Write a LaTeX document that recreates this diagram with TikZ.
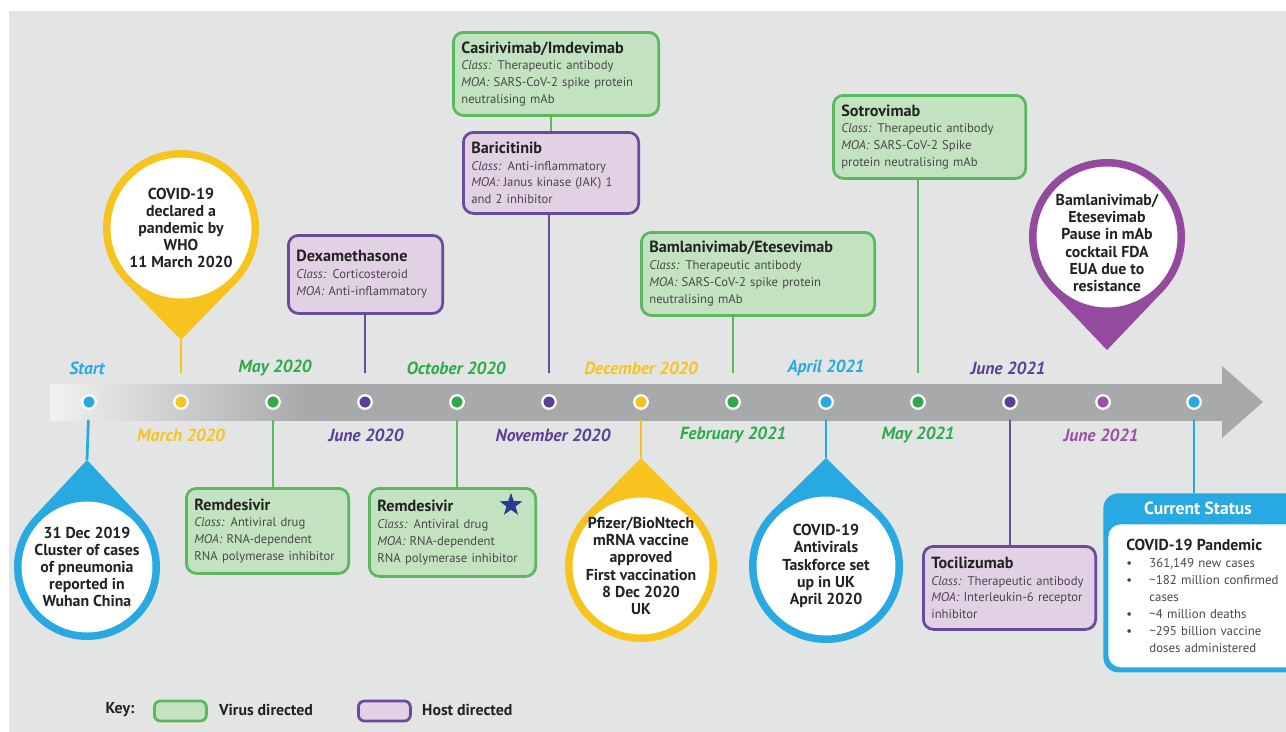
\documentclass[tikz,border=0pt]{standalone}
\usepackage{fontspec}
\setmainfont{PT Sans}
\usepackage{tikz}
\usetikzlibrary{shapes.geometric}

\definecolor{bgmid}{HTML}{F1F1F1}
\definecolor{bgside}{HTML}{E3E4E4}
\definecolor{bandgray}{HTML}{A7A9AB}
\definecolor{virusline}{HTML}{5CB85F}
\definecolor{virusfill}{HTML}{C3E3C0}
\definecolor{hostline}{HTML}{6A4B9B}
\definecolor{hostfill}{HTML}{E2D0E4}
\definecolor{pincyan}{HTML}{29A9E1}
\definecolor{pinyellow}{HTML}{F7C41F}
\definecolor{pinpurple}{HTML}{944A9F}
\definecolor{dategreen}{HTML}{2EAA4B}
\definecolor{datepurple}{HTML}{5C3F97}
\definecolor{datemagenta}{HTML}{9C50A7}
\definecolor{starblue}{HTML}{2B3A91}
\definecolor{inktext}{HTML}{222222}
\definecolor{bodytext}{HTML}{484848}

\pgfdeclarehorizontalshading{bandfade}{100bp}{color(0bp)=(bgmid); color(25bp)=(bgmid); color(36bp)=(bandgray); color(100bp)=(bandgray)}

\newcommand{\cls}{{\itshape Class:}}
\newcommand{\moa}{{\itshape MOA:}}
\newcommand{\drug}[1]{{\fontsize{9.2}{9.6}\selectfont\bfseries\color{inktext}#1}}
\newcommand{\bul}{\makebox[4.6mm][l]{\textbullet}}
\hyphenpenalty=10000

\begin{document}
\begin{tikzpicture}[x=0.2mm, y=-0.2mm,
	drugbox/.style={rectangle, rounded corners=2mm, line width=0.55mm, anchor=north west, align=left, inner xsep=1.6mm, inner ysep=1mm, font=\fontsize{7.2}{9.6}\selectfont, text=bodytext},
	virus/.style={drugbox, draw=virusline, fill=virusfill},
	host/.style={drugbox, draw=hostline, fill=hostfill},
	dot/.style={circle, draw=white, line width=0.45mm, inner sep=0pt, minimum size=2.7mm},
	month/.style={font=\fontsize{10}{12}\selectfont\bfseries\itshape},
	ring/.style={circle, fill=white, line width=1.5mm, inner sep=0pt},
	pintext/.style={align=center, font=\fontsize{9}{9.8}\selectfont\bfseries, text=inktext},
	keytext/.style={anchor=west, font=\fontsize{9}{11}\selectfont\bfseries, text=inktext},
	stem/.style={line width=0.55mm},
	stemup/.style={shorten <=4.2mm},
	stemdown/.style={shorten <=2mm}]
		\useasboundingbox (0,0) rectangle (1286,731);
		% background and time line
		\shade[left color=bgside, middle color=bgmid, right color=bgside] (9,11) rectangle (1286,731);
		\shade[shading=bandfade] (50,384) rectangle (1223,420);
		\fill[bandgray] (1222,366) -- (1263,402) -- (1222,438) -- cycle;
		%
		\node[dot, fill=pincyan] (t0) at (89,402) {};
		\node[dot, fill=pinyellow] (t1) at (181,402) {};
		\node[dot, fill=dategreen] (t2) at (273,402) {};
		\node[dot, fill=datepurple] (t3) at (365,402) {};
		\node[dot, fill=dategreen] (t4) at (457,402) {};
		\node[dot, fill=datepurple] (t5) at (549,402) {};
		\node[dot, fill=pinyellow] (t6) at (641,402) {};
		\node[dot, fill=dategreen] (t7) at (733,402) {};
		\node[dot, fill=pincyan] (t8) at (826,402) {};
		\node[dot, fill=dategreen] (t9) at (918,402) {};
		\node[dot, fill=datepurple] (t10) at (1010,402) {};
		\node[dot, fill=datemagenta] (t11) at (1103,402) {};
		\node[dot, fill=pincyan] (t12) at (1194,402) {};
		%
		\node[month, text=pincyan] (m0) at (87,368) {Start};
		\node[month, text=pinyellow] (m1) at (181,435) {March 2020};
		\node[month, text=dategreen] (m2) at (275,368) {May 2020};
		\node[month, text=datepurple] (m3) at (366,435) {June 2020};
		\node[month, text=dategreen] (m4) at (456,368) {October 2020};
		\node[month, text=datepurple] (m5) at (553,435) {November 2020};
		\node[month, text=pinyellow] (m6) at (641,368) {December 2020};
		\node[month, text=dategreen] (m7) at (733,435) {February 2021};
		\node[month, text=pincyan] (m8) at (826,368) {April 2021};
		\node[month, text=dategreen] (m9) at (918,435) {May 2021};
		\node[month, text=datepurple] (m10) at (1008,368) {June 2021};
		\node[month, text=datemagenta] (m11) at (1101,435) {June 2021};
		%
		% pins
		\coordinate (c1) at (181,228);
		\coordinate (tip1) at (181,340);
		\fill[pinyellow] (tip1) -- ([shift={(-136:15.6mm)}]c1) -- ([shift={(-44:15.6mm)}]c1) -- cycle;
		\node[ring, draw=pinyellow, minimum size=29.7mm] (who) at (c1) {};
		\node[pintext] (whotxt) at (c1) {COVID-19\\declared a\\pandemic by\\WHO\\11 March 2020};
		
		\coordinate (c2) at (1107,237);
		\coordinate (tip2) at (1107,350);
		\fill[pinpurple] (tip2) -- ([shift={(-136:15.6mm)}]c2) -- ([shift={(-44:15.6mm)}]c2) -- cycle;
		\node[ring, draw=pinpurple, minimum size=29.7mm] (pause) at (c2) {};
		\node[pintext] (pausetxt) at (1107,243) {Bamlanivimab/\\Etesevimab\\Pause in mAb\\cocktail FDA\\EUA due to\\resistance};
		
		\coordinate (c3) at (87,567);
		\coordinate (tip3) at (87,460);
		\fill[pincyan] (tip3) -- ([shift={(43:14.6mm)}]c3) -- ([shift={(137:14.6mm)}]c3) -- cycle;
		\node[ring, draw=pincyan, minimum size=27.7mm] (wuhan) at (c3) {};
		\node[pintext] (wuhantxt) at (c3) {31 Dec 2019\\Cluster of cases\\of pneumonia\\reported in\\Wuhan China};
		
		\coordinate (c4) at (641,566);
		\coordinate (tip4) at (641,458);
		\fill[pinyellow] (tip4) -- ([shift={(45:15.2mm)}]c4) -- ([shift={(135:15.2mm)}]c4) -- cycle;
		\node[ring, draw=pinyellow, minimum size=28.9mm] (pfizer) at (c4) {};
		\node[pintext] (pfizertxt) at (c4) {Pfizer/BioNtech\\mRNA vaccine\\approved\\First vaccination\\8 Dec 2020\\UK};
		
		\coordinate (c5) at (826,566);
		\coordinate (tip5) at (826,458);
		\fill[pincyan] (tip5) -- ([shift={(45:15.4mm)}]c5) -- ([shift={(135:15.4mm)}]c5) -- cycle;
		\node[ring, draw=pincyan, minimum size=29.3mm] (task) at (c5) {};
		\node[pintext] (tasktxt) at (c5) {COVID-19\\Antivirals\\Taskforce set\\up in UK\\April 2020};
		%
		% drug boxes
		\node[virus, text width=37.85mm, minimum height=16.6mm] (cas) at (452,31) {\drug{Casirivimab/Imdevimab}\\ \cls{} Therapeutic antibody\\ \moa{} SARS-CoV-2 spike protein\\ neutralising mAb};
		\node[host, text width=31.85mm, minimum height=16.2mm] (bari) at (462,131) {\drug{Baricitinib}\\ \cls{} Anti-inflammatory\\ \moa{} Janus kinase (JAK) 1\\ and 2 inhibitor};
		\node[host, text width=27.65mm, minimum height=15.6mm] (dexa) at (287,234) {\drug{Dexamethasone}\\ \cls{} Corticosteroid\\ \moa{} Anti-inflammatory};
		\node[virus, text width=43.45mm, minimum height=16.6mm] (bam) at (640,231) {\drug{Bamlanivimab/Etesevimab}\\ \cls{} Therapeutic antibody\\ \moa{} SARS-CoV-2 spike protein\\ neutralising mAb};
		\node[virus, text width=35.25mm, minimum height=16.6mm] (sot) at (832,94) {\drug{Sotrovimab}\\ \cls{} Therapeutic antibody\\ \moa{} SARS-CoV-2 Spike\\ protein neutralising mAb};
		\node[virus, text width=29.25mm, minimum height=17mm] (rem1) at (185,487) {\drug{Remdesivir}\\ \cls{} Antiviral drug\\ \moa{} RNA-dependent\\ RNA polymerase inhibitor};
		\node[virus, text width=30.05mm, minimum height=17.6mm] (rem2) at (368,487) {\drug{Remdesivir}\\ \cls{} Antiviral drug\\ \moa{} RNA-dependent\\ RNA polymerase inhibitor};
		\node[star, star points=5, star point ratio=2.5, fill=starblue, inner sep=0pt, minimum size=4.8mm] (star) at (511,505) {};
		\node[host, text width=31.25mm, minimum height=16.6mm] (toc) at (922,545) {\drug{Tocilizumab}\\ \cls{} Therapeutic antibody\\ \moa{} Interleukin-6 receptor\\ inhibitor};
		%
		% current status
		\node[rectangle, rounded corners=3mm, fill=pincyan, anchor=north west, minimum width=40mm, minimum height=35.8mm] (status) at (1103,493) {};
		\node[font=\fontsize{10}{12}\selectfont\bfseries, text=white] (statushead) at (1198,508) {Current Status};
		\node[rectangle, rounded corners=2.5mm, fill=white, anchor=north west, text width=33mm, inner xsep=3.6mm, minimum height=28.6mm, align=left, font=\fontsize{7.3}{9.6}\selectfont, text=bodytext] (statusbody) at (1108,524) {{\fontsize{9}{9.6}\selectfont\bfseries\color{inktext}COVID-19 Pandemic}\\ \bul 361,149 new cases\\ \bul\textasciitilde182 million confirmed\\ \hspace*{4.6mm}cases\\ \bul\textasciitilde4 million deaths\\ \bul\textasciitilde295 billion vaccine\\ \hspace*{4.6mm}doses administered};
		%
		% key
		\node[keytext, anchor=center] (key) at (120,710) {Key:};
		\node[virus, anchor=west, minimum width=10.4mm, minimum height=4mm, rounded corners=1.2mm] (keyv) at (153,711) {};
		\node[keytext] (keyvt) at (213,710) {Virus directed};
		\node[host, anchor=west, minimum width=10.4mm, minimum height=4mm, rounded corners=1.2mm] (keyh) at (357,711) {};
		\node[keytext] (keyht) at (416,710) {Host directed};
		%
		\draw[stem]
			%Upward stems
			(t1) edge[pinyellow, stemup] (tip1)
			(t3) edge[hostline, stemup] (t3 |- dexa.south)
			(t5) edge[hostline, stemup] (t5 |- bari.south)
			(t7) edge[virusline, stemup] (t7 |- bam.south)
			(t9) edge[virusline, stemup] (t9 |- sot.south)
			(bari.north) edge[virusline] (bari.north |- cas.south)
			
			%Downward stems
			(t0) edge[pincyan, stemdown] (tip3)
			(t2) edge[virusline, stemdown] (t2 |- rem1.north)
			(t4) edge[virusline, stemdown] (t4 |- rem2.north)
			(t6) edge[pinyellow, stemdown] (tip4)
			(t8) edge[pincyan, stemdown] (tip5)
			(t10) edge[hostline, stemdown] (t10 |- toc.north)
			(t12) edge[pincyan, stemdown] (t12 |- status.north)
		;
		
	\end{tikzpicture}
\end{document}
